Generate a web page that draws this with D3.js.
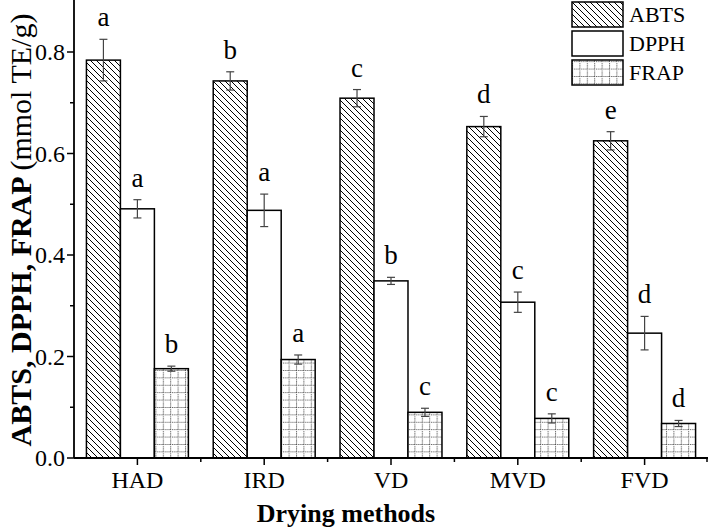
<!DOCTYPE html>
<html><head><meta charset="utf-8">
<script src="https://cdn.jsdelivr.net/npm/d3@7"></script>
<style>body{margin:0;background:#fff}svg{display:block}text{font-family:"Liberation Serif","Times New Roman",serif}</style>
</head><body>
<script>
const categories = ["HAD","IRD","VD","MVD","FVD"];
const seriesNames = ["ABTS","DPPH","FRAP"];
const abts = [0.784, 0.743, 0.709, 0.653, 0.625];
const abtsErr = [0.041, 0.018, 0.017, 0.020, 0.018];
const dpph = [0.491, 0.488, 0.349, 0.307, 0.246];
const dpphErr = [0.018, 0.032, 0.007, 0.020, 0.033];
const frap = [0.176, 0.194, 0.090, 0.078, 0.068];
const frapErr = [0.005, 0.009, 0.008, 0.009, 0.006];
const abtsLetters = ["a","b","c","d","e"];
const dpphLetters = ["a","a","b","c","d"];
const frapLetters = ["b","a","c","c","d"];
const yTicks = [0, 0.2, 0.4, 0.6, 0.8];

const W = 709, H = 531;
const svg = d3.select("body").append("svg").attr("width", W).attr("height", H);
const defs = svg.append("defs");
const hp = defs.append("pattern").attr("id","hatch").attr("patternUnits","userSpaceOnUse").attr("width",6).attr("height",6);
hp.append("path").attr("d","M0,0L6,6M-1,5L1,7M5,-1L7,1").attr("stroke","#000").attr("stroke-width",1).attr("fill","none");
const gp = defs.append("pattern").attr("id","grid").attr("patternUnits","userSpaceOnUse").attr("width",7.4).attr("height",7.4);
gp.append("rect").attr("width",7.4).attr("height",7.4).attr("fill","#fff");
gp.append("path").attr("d","M0,0.5H7.4M0.5,0V7.4").attr("stroke","#444").attr("stroke-width",1).attr("stroke-dasharray","1,1").attr("fill","none");
const fills = {ABTS:"url(#hatch)", DPPH:"#fff", FRAP:"url(#grid)"};

const x0 = 74, x1 = 708, yTop = 0, yZero = 458;
const x = d3.scaleBand().domain(categories).range([x0, x1]).paddingInner(0.196).paddingOuter(0.098);
const xs = d3.scaleBand().domain(seriesNames).range([0, x.bandwidth()]);
const y = d3.scaleLinear().domain([0, 0.9]).range([yZero, yZero - 0.9*507.5]);

const data = [];
categories.forEach((c,i)=>{
  data.push({c, s:"ABTS", v:abts[i], e:abtsErr[i], l:abtsLetters[i]});
  data.push({c, s:"DPPH", v:dpph[i], e:dpphErr[i], l:dpphLetters[i]});
  data.push({c, s:"FRAP", v:frap[i], e:frapErr[i], l:frapLetters[i]});
});

const g = svg.append("g");
g.selectAll("rect.bar").data(data).join("rect").attr("class","bar")
  .attr("x", d=>x(d.c)+xs(d.s)).attr("width", xs.bandwidth())
  .attr("y", d=>y(d.v)).attr("height", d=>y(0)-y(d.v))
  .attr("fill", d=>fills[d.s]).attr("stroke","#000").attr("stroke-width",1.5);

const cx = d => x(d.c)+xs(d.s)+xs.bandwidth()/2;
const eb = g.selectAll("g.eb").data(data).join("g").attr("class","eb")
  .attr("stroke","#444").attr("stroke-width",1.2);
eb.append("line").attr("x1",cx).attr("x2",cx).attr("y1",d=>y(d.v+d.e)).attr("y2",d=>y(d.v-d.e));
eb.append("line").attr("x1",d=>cx(d)-4).attr("x2",d=>cx(d)+4).attr("y1",d=>y(d.v+d.e)).attr("y2",d=>y(d.v+d.e));
eb.append("line").attr("x1",d=>cx(d)-4).attr("x2",d=>cx(d)+4).attr("y1",d=>y(d.v-d.e)).attr("y2",d=>y(d.v-d.e));

g.selectAll("text.lt").data(data).join("text").attr("class","lt")
  .attr("x", cx).attr("y", d=>y(d.v+d.e)-13)
  .attr("text-anchor","middle").attr("font-size",27).text(d=>d.l);

// Y axis
const yAxisG = svg.append("g").attr("transform",`translate(${x0},0)`);
yAxisG.append("line").attr("x1",0).attr("x2",0).attr("y1",yTop).attr("y2",yZero).attr("stroke","#000").attr("stroke-width",1.8);
const yMinor = d3.range(0.1, 0.9, 0.2);
yAxisG.selectAll("line.ymaj").data(yTicks).join("line").attr("class","ymaj").attr("x1",-7).attr("x2",0).attr("y1",d=>y(d)).attr("y2",d=>y(d)).attr("stroke","#000").attr("stroke-width",1.5);
yAxisG.selectAll("line.ymin").data(yMinor).join("line").attr("class","ymin").attr("x1",-4).attr("x2",0).attr("y1",d=>y(d)).attr("y2",d=>y(d)).attr("stroke","#000").attr("stroke-width",1.5);
yAxisG.selectAll("text").data(yTicks).join("text").attr("x",-9).attr("y",d=>y(d)).attr("dy","0.34em")
  .attr("text-anchor","end").attr("font-size",24).text(d=>d3.format(".1f")(d));

// X axis
const xAxisG = svg.append("g").attr("transform",`translate(0,${yZero})`);
xAxisG.append("line").attr("x1",x0).attr("x2",x1).attr("y1",0).attr("y2",0).attr("stroke","#000").attr("stroke-width",1.8);
xAxisG.selectAll("line.xmaj").data(categories).join("line").attr("class","xmaj")
  .attr("x1",d=>x(d)+x.bandwidth()/2).attr("x2",d=>x(d)+x.bandwidth()/2).attr("y1",0).attr("y2",7).attr("stroke","#000").attr("stroke-width",1.5);
const bounds = categories.slice(1).map(c=>x(c)-x.step()*x.paddingInner()/2).concat([x1-1]);
xAxisG.selectAll("line.xmin").data(bounds).join("line").attr("class","xmin")
  .attr("x1",d=>d).attr("x2",d=>d).attr("y1",0).attr("y2",4).attr("stroke","#000").attr("stroke-width",1.5);
xAxisG.selectAll("text").data(categories).join("text").attr("x",d=>x(d)+x.bandwidth()/2).attr("y",30)
  .attr("text-anchor","middle").attr("font-size",24).text(d=>d);

// Axis titles
svg.append("text").attr("x",346).attr("y",522).attr("text-anchor","middle").attr("font-size",26).attr("font-weight","bold").text("Drying methods");
const yt = svg.append("text").attr("transform","translate(31,230) rotate(-90)").attr("text-anchor","middle").attr("font-size",30);
yt.append("tspan").attr("font-weight","bold").text("ABTS, DPPH, FRAP ");
yt.append("tspan").text("(mmol TE/g)");

// Legend
const lg = svg.append("g").attr("transform","translate(572,2)");
seriesNames.forEach((s,i)=>{
  lg.append("rect").attr("x",0).attr("y",i*29).attr("width",51).attr("height",25).attr("fill",fills[s]).attr("stroke","#000").attr("stroke-width",1.5);
  lg.append("text").attr("x",57).attr("y",i*29+12.5).attr("dy","0.35em").attr("font-size",22).text(s);
});
</script>
</body></html>
